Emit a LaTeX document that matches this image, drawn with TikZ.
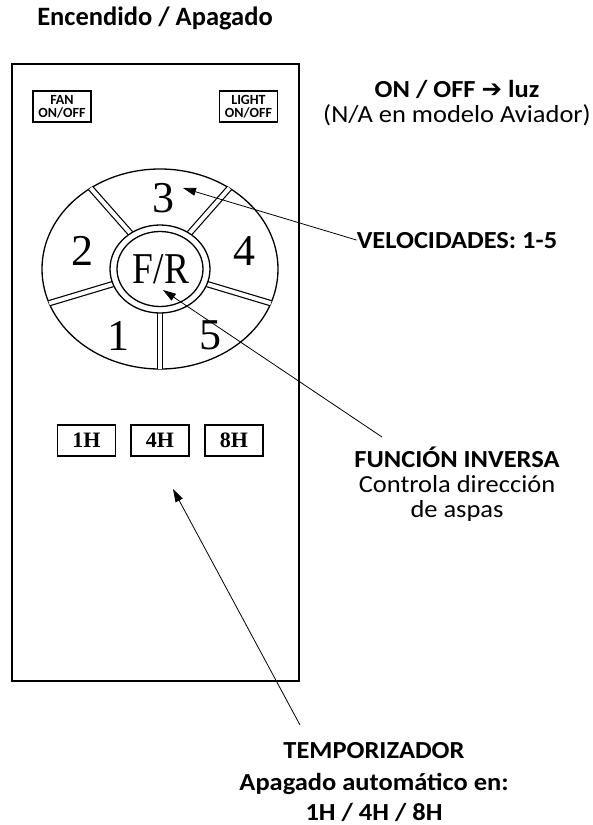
\documentclass[tikz,border=0pt]{standalone}
\usepackage{fontspec}
\setmainfont{Carlito}
\newfontfamily\labelfont{Carlito}[FakeStretch=1.08]
\newfontfamily\keyfont{Liberation Serif}
\newfontfamily\symfont{DejaVu Sans}
\usetikzlibrary{arrows.meta}

\tikzset{
  remote/.style={draw, line width=2pt},
  smallbtn/.style={draw, line width=1.5pt, minimum width=58pt, minimum height=31pt,
    inner sep=0pt, align=center, font=\fontsize{14}{13}\selectfont\bfseries},
  timerbtn/.style={draw, line width=1.5pt, minimum width=58pt, minimum height=31pt,
    inner sep=0pt, font=\keyfont\bfseries\fontsize{22}{22}\selectfont},
  keynum/.style={anchor=base, inner sep=0pt, font=\keyfont\fontsize{44}{44}\selectfont},
  pad/.style={line width=1.3pt},
  gap/.style={line width=1.2pt, double=white, double distance=4pt},
  lbl/.style={anchor=base, inner sep=0pt, font=\labelfont\fontsize{24.5}{24.5}\selectfont},
  lblbold/.style={anchor=base, inner sep=0pt, font=\labelfont\fontsize{24.5}{24.5}\selectfont\bfseries},
  ptr/.style={-{Triangle[length=13pt,width=8pt]}, line width=0.8pt},
}

\begin{document}
\begin{tikzpicture}[x=1pt,y=-1pt]
  \useasboundingbox (0,0) rectangle (593,825);
  \node[lblbold, font=\fontsize{26.5}{26.5}\selectfont\bfseries] (title) at (155,25) {Encendido / Apagado};

  % remote body
  \draw[remote] (12,64) rectangle (299,681);
  \node[smallbtn] (fan) at (62,106.5) {FAN\\ON/OFF};
  \node[smallbtn] (light) at (248.5,106.5) {LIGHT\\ON/OFF};

  % speed pad
  \draw[pad] (160,269) ellipse [x radius=118, y radius=100];
  \foreach \a in {54,126,200,270,340}
    \draw[gap] ({160+50*cos(\a)},{269-44*sin(\a)}) -- ({160+118*cos(\a)},{269-100*sin(\a)});
  \draw[pad, fill=white] (160,269) ellipse [x radius=50, y radius=44];
  \draw[pad] (160,269) ellipse [x radius=43, y radius=37.5];
  \node[keynum] (k3) at (163,212) {3};
  \node[keynum] (k2) at (82,265) {2};
  \node[keynum] (k4) at (244,265) {4};
  \node[keynum] (k1) at (118,350) {1};
  \node[keynum] (k5) at (210,349) {5};
  \node[keynum] (fr) at (161,283) {\scalebox{0.85}[1]{F/R}};

  % timer buttons
  \node[timerbtn] (t1) at (86.5,440.5) {1H};
  \node[timerbtn] (t4) at (160,440.5) {4H};
  \node[timerbtn] (t8) at (234,440.5) {8H};

  % labels
  \node[lblbold] (onoff) at (457,97) {ON / OFF {\symfont\bfseries ➔} luz};
  \node[lbl] (na) at (457,122) {(N/A en modelo Aviador)};
  \node[lblbold] (velo) at (457,248) {VELOCIDADES: 1-5};
  \node[lblbold] (func) at (457,467) {FUNCIÓN INVERSA};
  \node[lbl] (ctrl) at (457,492) {Controla dirección};
  \node[lbl] (asp) at (457,517) {de aspas};
  \node[lblbold] (temp) at (374,758) {TEMPORIZADOR};
  \node[lblbold] (apag) at (374,790) {Apagado automático en:};
  \node[lblbold] (hrs) at (374,820) {1H / 4H / 8H};

  % pointers
  \coordinate (tip3) at (183,188);
  \coordinate (tipfr) at (163,290);
  \coordinate (tiptm) at (173,489);
  \coordinate (frtail) at (382,437);
  \coordinate (tmtail) at (300,725);
  \draw[ptr] (velo.west) -- (tip3);
  \draw[ptr] (frtail) -- (tipfr);
  \draw[ptr] (tmtail) -- (tiptm);
\end{tikzpicture}
\end{document}
